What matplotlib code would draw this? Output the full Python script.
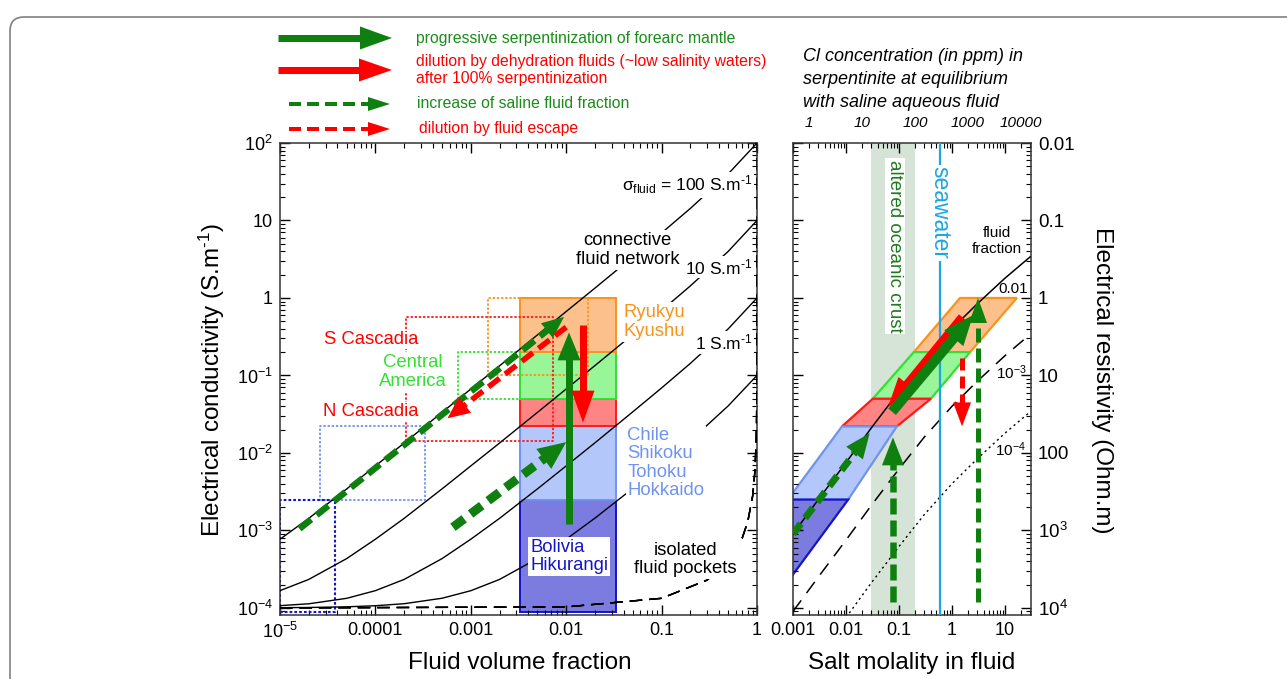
import numpy as np
import matplotlib
matplotlib.use("Agg")
import matplotlib.pyplot as plt
from matplotlib.lines import Line2D
from matplotlib.patches import Polygon, FancyBboxPatch
from matplotlib.ticker import FixedLocator, FixedFormatter, LogLocator, NullFormatter
from matplotlib.transforms import IdentityTransform

plt.rcParams["font.family"] = ["Liberation Sans", "DejaVu Sans"]
plt.rcParams["mathtext.fontset"] = "custom"
plt.rcParams["mathtext.rm"] = "Liberation Sans"
plt.rcParams["mathtext.it"] = "Liberation Sans:italic"
plt.rcParams["mathtext.bf"] = "Liberation Sans:bold"

# ---- left panel: bulk conductivity vs fluid fraction (HS bounds)
phi_upper = [1e-5, 2e-5, 5e-5, 1e-4, 2e-4, 5e-4, 1e-3, 2e-3, 5e-3, 0.01, 0.02, 0.05, 0.1, 0.2, 0.5, 1.0]
hs_upper_100 = [7.7e-4, 1.43e-3, 3.43e-3, 6.8e-3, 0.0134, 0.0334, 0.0668, 0.133, 0.334, 0.669, 1.34, 3.39, 6.9, 14.3, 40, 100]
hs_upper_10 = [1.67e-4, 2.33e-4, 4.33e-4, 7.7e-4, 1.43e-3, 3.44e-3, 6.8e-3, 0.0134, 0.0334, 0.0669, 0.134, 0.339, 0.69, 1.43, 4.0, 10]
hs_upper_1 = [1.07e-4, 1.13e-4, 1.33e-4, 1.67e-4, 2.33e-4, 4.33e-4, 7.7e-4, 1.43e-3, 3.44e-3, 6.8e-3, 0.0135, 0.034, 0.069, 0.143, 0.40, 1.0]
hs_upper_01 = [1.007e-4, 1.013e-4, 1.033e-4, 1.067e-4, 1.133e-4, 1.333e-4, 1.667e-4, 2.33e-4, 4.34e-4, 7.7e-4, 1.44e-3, 3.49e-3, 6.99e-3, 0.0144, 0.0406, 0.10]

phi_lower = [1e-5, 0.01, 0.1, 0.3, 0.5, 0.7, 0.8, 0.9, 0.95, 0.98, 0.99, 0.995, 0.999, 0.9995, 0.9999, 1.0]
hs_lower_01 = [1.0e-4, 1.03e-4, 1.33e-4, 2.28e-4, 3.98e-4, 7.9e-4, 1.28e-3, 2.72e-3, 5.47e-3, 0.0129, 0.0229, 0.0373, 0.0749, 0.0856, 0.0967, 0.1]
hs_lower_1 = [1.0e-4, 1.03e-4, 1.33e-4, 2.29e-4, 4.0e-4, 8.0e-4, 1.30e-3, 2.79e-3, 5.75e-3, 0.0145, 0.0289, 0.0563, 0.231, 0.374, 0.75, 1.0]
hs_lower_10 = [1.0e-4, 1.03e-4, 1.33e-4, 2.29e-4, 4.0e-4, 8.0e-4, 1.30e-3, 2.80e-3, 5.8e-3, 0.0148, 0.0296, 0.0593, 0.291, 0.565, 2.31, 10]
hs_lower_100 = [1.0e-4, 1.03e-4, 1.33e-4, 2.29e-4, 4.0e-4, 8.0e-4, 1.30e-3, 2.80e-3, 5.8e-3, 0.0148, 0.0297, 0.0597, 0.299, 0.595, 2.91, 100]

# observed ranges (filled column) and regional boxes (dotted)
column_phi = [0.0033, 0.033]
column_bottom = [8.8e-5, 0.0025, 0.022, 0.05, 0.2]
column_top = [0.0025, 0.022, 0.05, 0.2, 1.0]
region_x0 = [0.0015, 2.1e-4, 7.3e-4, 2.6e-5, 1e-5]
region_x1 = [0.017, 0.0073, 0.0033, 3.3e-4, 3.8e-5]
region_y0 = [0.1, 0.0143, 0.05, 0.0025, 8.8e-5]
region_y1 = [1.0, 0.57, 0.2, 0.022, 0.0025]

# arrows in left panel: (start, end)
left_green_solid = [(0.0107, 1.2e-3), (0.0107, 0.36)]
left_red_solid = [(0.015, 0.45), (0.015, 0.0246)]
left_green_dash_a = [(1.6e-5, 1.05e-3), (0.0095, 0.57)]
left_red_dash = [(0.0100, 0.42), (5.7e-4, 0.028)]
left_green_dash_b = [(6.5e-4, 1.1e-3), (0.0100, 0.0138)]

# ---- right panel: conductivity vs salt molality
molality = [0.001, 0.003, 0.01, 0.03, 0.1, 0.3, 1, 3, 10, 30]
cond_frac_1e2 = [9.0e-4, 2.5e-3, 7.5e-3, 0.021, 0.062, 0.16, 0.40, 0.84, 1.8, 3.4]
cond_frac_1e3 = [9.0e-5, 2.5e-4, 7.5e-4, 2.1e-3, 6.2e-3, 0.016, 0.040, 0.084, 0.18, 0.34]
cond_frac_1e4 = [9.0e-6, 2.5e-5, 7.5e-5, 2.1e-4, 6.2e-4, 1.6e-3, 4.0e-3, 8.4e-3, 0.018, 0.034]
crust_molality = [0.03, 0.2]
seawater_molality = 0.59
ppm_per_molal = 500
ppm_ticks = [1, 10, 100, 1000, 10000]

para_orange = [(0.19, 0.2), (2.2, 0.2), (16.8, 1.0), (1.42, 1.0)]
para_green = [(0.032, 0.05), (0.40, 0.05), (2.2, 0.2), (0.19, 0.2)]
para_red = [(0.0084, 0.022), (0.091, 0.022), (0.40, 0.05), (0.032, 0.05)]
para_lblue = [(0.0008, 0.0025), (0.011, 0.0025), (0.091, 0.022), (0.0084, 0.022)]
para_dblue = [(2e-5, 8e-5), (2.7e-4, 8e-5), (0.011, 0.0025), (0.0008, 0.0025)]

right_red_solid = [(1.55, 0.57), (0.062, 0.039)]
right_green_solid = [(0.074, 0.034), (2.5, 0.6)]
right_green_dash_diag = [(0.001, 9e-4), (0.028, 0.018)]
right_green_dash_v1 = [(0.077, 1.2e-4), (0.077, 0.0159)]
right_green_dash_v2 = [(3.1, 1.2e-4), (3.1, 1.0)]
right_red_dash_v = [(1.55, 0.17), (1.55, 0.022)]

GREEN = "#0f7f0f"
GREEN_TXT = "#1a8c1a"
RED = "#ff0000"
ORANGE = "#f7941d"
ORANGE_FILL = "#fbc08c"
LIME = "#33e033"
LIME_FILL = "#98f598"
RED_EDGE = "#ff1a1a"
RED_FILL = "#ff8585"
LBLUE = "#6f93ef"
LBLUE_FILL = "#b4c7fa"
DBLUE = "#1414c8"
DBLUE_FILL = "#7b7be0"
BAND = "#d5e4d7"
SEA = "#1ca6e4"
INV = "\u2010"  # short hyphen for unit exponents

W, H = 1287, 679
fig = plt.figure(figsize=(W / 100, H / 100), dpi=100)


def px_box(x0, y0, x1, y1):
    return [x0 / W, 1 - y1 / H, (x1 - x0) / W, (y1 - y0) / H]


axL = fig.add_axes(px_box(280, 143, 757, 615))
axR = fig.add_axes(px_box(793, 143, 1031, 615))

for ax in (axL, axR):
    ax.set_xscale("log")
    ax.set_yscale("log")
    ax.set_ylim(8.1e-5, 100)
    ax.tick_params(which="both", direction="in", top=True, right=True, labelsize=13, pad=5)
    ax.tick_params(which="major", length=7, width=1)
    ax.tick_params(which="minor", length=3.5, width=0.8)
    ax.xaxis.set_minor_locator(LogLocator(base=10, subs=range(2, 10), numticks=20))
    ax.yaxis.set_minor_locator(LogLocator(base=10, subs=range(2, 10), numticks=20))
    ax.xaxis.set_minor_formatter(NullFormatter())
    ax.yaxis.set_minor_formatter(NullFormatter())
    for s in ax.spines.values():
        s.set_linewidth(1.1)
        s.set_color("#333333")

axL.set_xlim(1e-5, 1)
axR.set_xlim(1e-3, 31)

axL.xaxis.set_major_locator(FixedLocator([1e-5, 1e-4, 1e-3, 1e-2, 0.1, 1]))
axL.xaxis.set_major_formatter(FixedFormatter(["$10^{-5}$", "0.0001", "0.001", "0.01", "0.1", "1"]))
axL.yaxis.set_major_locator(FixedLocator([1e-4, 1e-3, 1e-2, 0.1, 1, 10, 100]))
axL.yaxis.set_major_formatter(FixedFormatter(["$10^{-4}$", "$10^{-3}$", "$10^{-2}$", "$10^{-1}$", "1", "10", "$10^{2}$"]))

axR.xaxis.set_major_locator(FixedLocator([1e-3, 1e-2, 0.1, 1, 10]))
axR.xaxis.set_major_formatter(FixedFormatter(["0.001", "0.01", "0.1", "1", "10"]))
axR.yaxis.set_major_locator(FixedLocator([1e-4, 1e-3, 1e-2, 0.1, 1, 10, 100]))
axR.yaxis.set_major_formatter(FixedFormatter(["$10^{4}$", "$10^{3}$", "100", "10", "1", "0.1", "0.01"]))
axR.tick_params(axis="y", labelleft=False, labelright=True, labelsize=13.5)

top = axR.secondary_xaxis("top", functions=(lambda m: m * ppm_per_molal, lambda c: c / ppm_per_molal))
top.xaxis.set_major_locator(FixedLocator(ppm_ticks))
top.xaxis.set_major_formatter(FixedFormatter([str(v) for v in ppm_ticks]))
top.xaxis.set_minor_locator(FixedLocator([]))
top.tick_params(length=0, pad=9, labelsize=11)
for lab in top.get_xticklabels():
    lab.set_fontstyle("italic")
top.spines["top"].set_visible(False)

WHITE = dict(boxstyle="square,pad=0.08", fc="white", ec="none")
FS = 13.3

# ---- left panel drawing
for i, (y0, y1) in enumerate(zip(column_bottom, column_top)):
    fc = [DBLUE_FILL, LBLUE_FILL, RED_FILL, LIME_FILL, ORANGE_FILL][i]
    ec = [DBLUE, LBLUE, RED_EDGE, LIME, ORANGE][i]
    x0, x1 = column_phi
    axL.fill([x0, x1, x1, x0], [y0, y0, y1, y1], fc=fc, ec=ec, lw=1.4, zorder=1)

for i in range(len(region_x0)):
    col = [ORANGE, RED_EDGE, LIME, LBLUE, DBLUE][i]
    x0, x1, y0, y1 = region_x0[i], region_x1[i], region_y0[i], region_y1[i]
    axL.plot([x0, x1, x1, x0, x0], [y0, y0, y1, y1, y0], color=col,
             lw=1.5 if i == 4 else 1.3, ls=(0, (1.3, 1.0)), zorder=2)

for ys in (hs_upper_100, hs_upper_10, hs_upper_1, hs_upper_01):
    axL.plot(phi_upper, ys, color="black", lw=1.0, zorder=3)
for ys in (hs_lower_01, hs_lower_1, hs_lower_10, hs_lower_100):
    axL.plot(phi_lower, ys, color="black", lw=1.0, ls=(0, (9, 5)), zorder=3)

axL.text(0.188, 28.7, r"σ$_{\mathrm{fluid}}$ = 100 S.m$^{" + INV + "1}$", ha="center", va="center", fontsize=12.5, bbox=WHITE, zorder=4)
axL.text(0.0438, 4.16, "connective\nfluid network", ha="center", va="center", fontsize=FS, bbox=WHITE, zorder=4)
axL.text(0.40, 2.5, "10 S.m$^{" + INV + "1}$", ha="center", va="center", fontsize=12.5, bbox=WHITE, zorder=4)
axL.text(0.45, 0.266, "1 S.m$^{" + INV + "1}$", ha="center", va="center", fontsize=12.5, bbox=WHITE, zorder=4)
axL.text(0.0398, 0.49, "Ryukyu\nKyushu", ha="left", va="center", fontsize=FS, color=ORANGE, bbox=WHITE, zorder=4)
axL.text(9.1e-5, 0.295, "S Cascadia", ha="center", va="center", fontsize=FS, color=RED, bbox=WHITE, zorder=4)
axL.text(2.45e-4, 0.111, "Central\nAmerica", ha="center", va="center", fontsize=FS, color=LIME, bbox=WHITE, zorder=4)
axL.text(9.0e-5, 0.034, "N Cascadia", ha="center", va="center", fontsize=FS, color=RED, bbox=WHITE, zorder=4)
axL.text(0.0438, 0.0074, "Chile\nShikoku\nTohoku\nHokkaido", ha="left", va="center", fontsize=FS, color=LBLUE,
         bbox=WHITE, zorder=4, linespacing=1.1)
axL.text(0.0042, 4.6e-4, "Bolivia\nHikurangi", ha="left", va="center", fontsize=FS, color=DBLUE,
         bbox=dict(boxstyle="square,pad=0.12", fc="white", ec="none"), zorder=4, linespacing=1.1)
axL.text(0.179, 4.2e-4, "isolated\nfluid pockets", ha="center", va="center", fontsize=FS, bbox=WHITE, zorder=4,
         linespacing=1.1)

# ---- right panel drawing
axR.axvspan(crust_molality[0], crust_molality[1], color=BAND, lw=0, zorder=0.5)
for pts, fc, ec in ((para_orange, ORANGE_FILL, ORANGE), (para_green, LIME_FILL, LIME),
                    (para_red, RED_FILL, RED_EDGE), (para_lblue, LBLUE_FILL, LBLUE),
                    (para_dblue, DBLUE_FILL, DBLUE)):
    axR.add_patch(Polygon(pts, closed=True, fc=fc, ec=ec, lw=1.6, zorder=1))

axR.plot(molality, cond_frac_1e2, color="black", lw=1.1, zorder=3)
axR.plot(molality, cond_frac_1e3, color="black", lw=1.1, ls=(0, (9, 6)), zorder=3)
axR.plot(molality, cond_frac_1e4, color="black", lw=1.0, ls=(0, (1.5, 2.5)), zorder=3)
axR.axvline(seawater_molality, color=SEA, lw=1.6, zorder=3)

axR.text(0.084, 4.7, "altered oceanic crust", rotation=270, ha="center", va="center", fontsize=13.5,
         color="#1f7a1f", bbox=WHITE, zorder=4)
axR.text(seawater_molality, 12.5, "seawater", rotation=270, ha="center", va="center", fontsize=16.5,
         color=SEA, bbox=WHITE, zorder=4)
axR.text(7.1, 5.4, "fluid\nfraction", ha="center", va="center", fontsize=11, zorder=4)
axR.text(14.1, 1.3, "0.01", ha="center", va="center", fontsize=11, zorder=4)
axR.text(13, 0.11, "$10^{-3}$", ha="center", va="center", fontsize=11, zorder=4)
axR.text(12.5, 0.011, "$10^{-4}$", ha="center", va="center", fontsize=11, zorder=4)


def arrow(target, trans, p0, p1, color, shaft_px, head_w, head_l, dash=None, z=6):
    a = np.asarray(trans.transform(p0), float)
    b = np.asarray(trans.transform(p1), float)
    u = (b - a) / np.hypot(*(b - a))
    n = np.array([-u[1], u[0]])
    base = b - u * head_l
    inv = trans.inverted()
    shaft = inv.transform(np.array([a, base + u * 2]))
    head = inv.transform(np.array([b, base + n * head_w / 2, base - n * head_w / 2]))
    ls = "-" if dash is None else (0, (dash[0] / shaft_px, dash[1] / shaft_px))
    line = Line2D(shaft[:, 0], shaft[:, 1], transform=trans, color=color, lw=shaft_px * 0.72, ls=ls,
                  solid_capstyle="butt", dash_capstyle="butt", zorder=z)
    tri = Polygon(head, closed=True, transform=trans, fc=color, ec="none", zorder=z)
    if hasattr(target, "add_line"):
        target.add_line(line)
        target.add_patch(tri)
    else:
        target.add_artist(line)
        target.add_artist(tri)


tL, tR = axL.transData, axR.transData
arrow(axL, tL, *left_green_dash_a, GREEN, 6.5, 19, 22, dash=(15, 7))
arrow(axL, tL, *left_red_dash, RED, 5.5, 20, 22, dash=(14, 7))
arrow(axL, tL, *left_green_dash_b, GREEN, 9, 25, 28, dash=(14, 8))
arrow(axL, tL, *left_green_solid, GREEN, 7, 23, 28)
arrow(axL, tL, *left_red_solid, RED, 7, 23, 32)

arrow(axR, tR, *right_green_dash_diag, GREEN, 7, 21, 25, dash=(13, 7))
arrow(axR, tR, *right_green_dash_v1, GREEN, 6.5, 22, 28, dash=(16, 6))
arrow(axR, tR, *right_green_dash_v2, GREEN, 5, 18, 25, dash=(14, 6))
arrow(axR, tR, *right_red_dash_v, RED, 5, 18, 24, dash=(12, 6))
arrow(axR, tR, *right_red_solid, RED, 8, 22, 30)
arrow(axR, tR, *right_green_solid, GREEN, 10, 25, 30)

# ---- legend at the top (figure coordinates)
tF = fig.transFigure


def fpt(x, y):
    return (x / W, 1 - y / H)


arrow(fig, tF, fpt(278, 38), fpt(392, 38), GREEN, 7, 23, 32)
arrow(fig, tF, fpt(278, 70), fpt(392, 70), RED, 7, 23, 33)
arrow(fig, tF, fpt(289, 104), fpt(390, 104), GREEN, 4, 14, 22, dash=(12, 6))
arrow(fig, tF, fpt(289, 129), fpt(390, 129), RED, 4, 14, 22, dash=(12, 6))

fig.text(*fpt(416, 38), "progressive serpentinization of forearc mantle", color=GREEN_TXT, fontsize=11.3, va="center")
fig.text(*fpt(416, 70), "dilution by dehydration fluids (~low salinity waters)\nafter 100% serpentinization",
         color=RED, fontsize=11.3, va="center", linespacing=1.15)
fig.text(*fpt(417, 104), "increase of saline fluid fraction", color=GREEN_TXT, fontsize=11.3, va="center")
fig.text(*fpt(419, 129), "dilution by fluid escape", color=RED, fontsize=11.3, va="center")

fig.text(*fpt(803, 48), "Cl concentration (in ppm) in\nserpentinite at equilibrium\nwith saline aqueous fluid",
         fontsize=13, style="italic", va="top", ha="left", linespacing=1.45)

fig.text(*fpt(212, 380), "Electrical conductivity (S.m$^{" + INV + "1}$)", rotation=90, ha="center", va="center", fontsize=17.5)
fig.text(*fpt(520, 663), "Fluid volume fraction", ha="center", va="center", fontsize=17.5)
fig.text(*fpt(912, 663), "Salt molality in fluid", ha="center", va="center", fontsize=17.5)
fig.text(*fpt(1102, 380), "Electrical resistivity (Ohm.m)", rotation=270, ha="center", va="center", fontsize=17.5)

border = FancyBboxPatch((10, -60), 1400, 662 + 60, boxstyle="round,pad=0,rounding_size=14",
                        transform=IdentityTransform(), fill=False, ec="#808080", lw=1.2)
fig.add_artist(border)

fig.savefig("out.png", dpi=100)
